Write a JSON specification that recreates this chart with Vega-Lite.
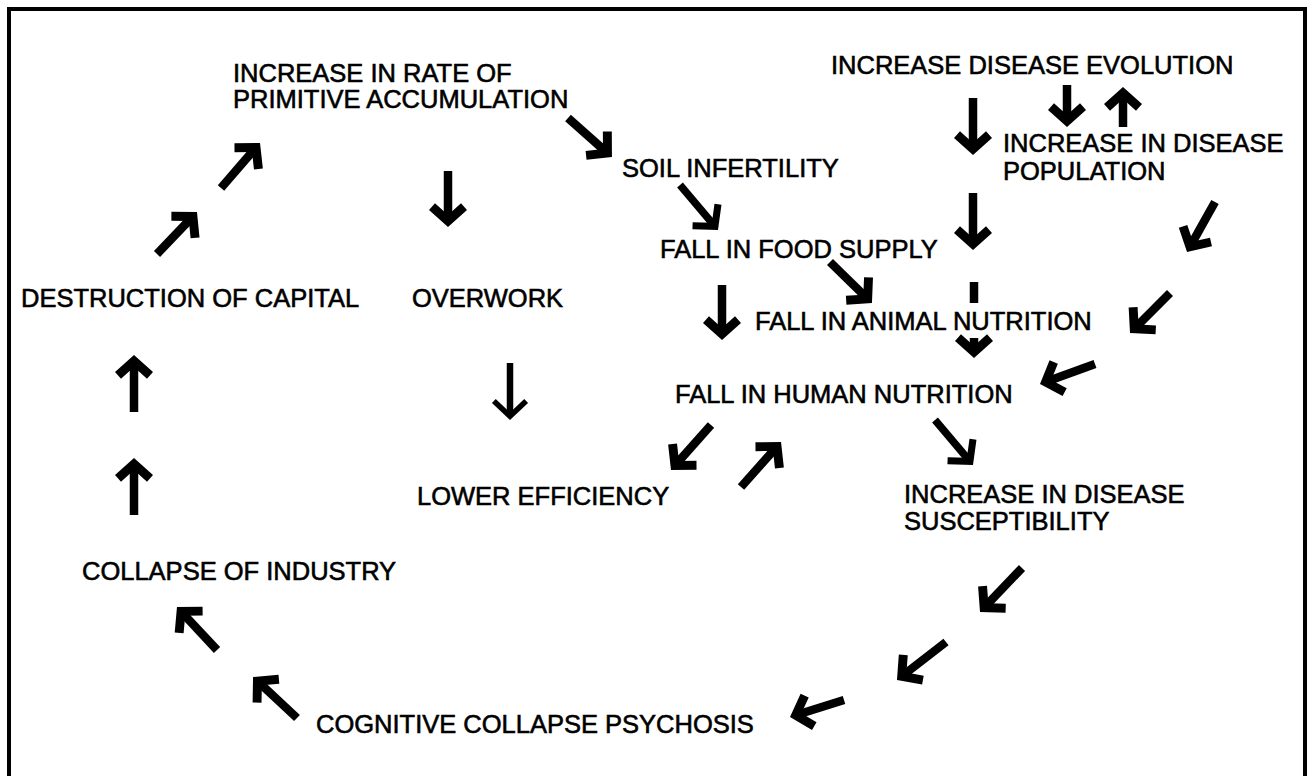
{
  "$schema": "https://vega.github.io/schema/vega-lite/v6.json",
  "width": 1313,
  "height": 776,
  "padding": 0,
  "autosize": {"type": "none"},
  "background": "white",
  "config": {"view": {"stroke": null}},
  "datasets": {
    "frame": [{"x": 9, "y": 9, "x2": 1305, "y2": 800}],
    "texts": [
      {"label": "INCREASE IN RATE OF", "x": 233, "y": 82},
      {"label": "PRIMITIVE ACCUMULATION", "x": 233, "y": 108},
      {"label": "INCREASE DISEASE EVOLUTION", "x": 831, "y": 74},
      {"label": "INCREASE IN DISEASE", "x": 1003, "y": 152},
      {"label": "POPULATION", "x": 1003, "y": 180},
      {"label": "SOIL INFERTILITY", "x": 622, "y": 177},
      {"label": "FALL IN FOOD SUPPLY", "x": 660, "y": 258},
      {"label": "DESTRUCTION OF CAPITAL", "x": 21, "y": 307},
      {"label": "OVERWORK", "x": 412, "y": 307},
      {"label": "FALL IN ANIMAL NUTRITION", "x": 755, "y": 330},
      {"label": "FALL IN HUMAN NUTRITION", "x": 675, "y": 403},
      {"label": "LOWER EFFICIENCY", "x": 417, "y": 505},
      {"label": "INCREASE IN DISEASE", "x": 904, "y": 503},
      {"label": "SUSCEPTIBILITY", "x": 904, "y": 530},
      {"label": "COLLAPSE OF INDUSTRY", "x": 82, "y": 580},
      {"label": "COGNITIVE COLLAPSE PSYCHOSIS", "x": 316, "y": 733}
    ],
    "arrows": [
      {"id": "A1", "x": 157, "y": 254, "hx": 192.6, "hy": 216.8, "angle": 42.3, "weight": "heavy"},
      {"id": "A2", "x": 221, "y": 188, "hx": 255.7, "hy": 147.9, "angle": 41.6, "weight": "heavy"},
      {"id": "A3", "x": 448, "y": 171, "hx": 448, "hy": 220.5, "angle": 180, "weight": "heavy"},
      {"id": "A4", "x": 568, "y": 118, "hx": 607.1, "hy": 152.7, "angle": 131.6, "weight": "heavy"},
      {"id": "A5", "x": 680, "y": 185, "hx": 713.8, "hy": 225, "angle": 139.8, "weight": "medium"},
      {"id": "A6", "x": 973, "y": 98, "hx": 973, "hy": 148.5, "angle": 180, "weight": "heavy"},
      {"id": "A7", "x": 1067, "y": 85, "hx": 1067, "hy": 120.5, "angle": 180, "weight": "heavy"},
      {"id": "A8", "x": 1123, "y": 127, "hx": 1123, "hy": 93.5, "angle": 0, "weight": "heavy"},
      {"id": "A9", "x": 973, "y": 193, "hx": 973, "hy": 243.5, "angle": 180, "weight": "heavy"},
      {"id": "A10", "x": 1215, "y": 202, "hx": 1190.2, "hy": 246.3, "angle": 209.3, "weight": "heavy"},
      {"id": "A11", "x": 830, "y": 262, "hx": 867.3, "hy": 298.5, "angle": 134.3, "weight": "heavy"},
      {"id": "A12", "x": 722, "y": 285, "hx": 722, "hy": 333.5, "angle": 180, "weight": "heavy"},
      {"id": "A13", "x": 974, "y": 338, "hx": 974, "hy": 351.5, "angle": 180, "weight": "heavy"},
      {"id": "A14", "x": 1170, "y": 293, "hx": 1134.6, "hy": 328.4, "angle": 225, "weight": "heavy"},
      {"id": "A15", "x": 1095, "y": 364, "hx": 1046.1, "hy": 381.8, "angle": 250, "weight": "heavy"},
      {"id": "A16", "x": 510, "y": 363, "hx": 510, "hy": 413.5, "angle": 180, "weight": "light"},
      {"id": "A17", "x": 711, "y": 425, "hx": 675.3, "hy": 465.1, "angle": 221.6, "weight": "heavy"},
      {"id": "A18", "x": 741, "y": 487, "hx": 776.7, "hy": 446.9, "angle": 41.6, "weight": "heavy"},
      {"id": "A19", "x": 935, "y": 420, "hx": 968.8, "hy": 460, "angle": 139.8, "weight": "medium"},
      {"id": "A20", "x": 134, "y": 412, "hx": 134, "hy": 361.5, "angle": 0, "weight": "heavy"},
      {"id": "A21", "x": 134, "y": 515, "hx": 134, "hy": 464.5, "angle": 0, "weight": "heavy"},
      {"id": "A22", "x": 1022, "y": 568, "hx": 984.5, "hy": 607.3, "angle": 223.7, "weight": "heavy"},
      {"id": "A23", "x": 946, "y": 642, "hx": 902.1, "hy": 676, "angle": 232.2, "weight": "heavy"},
      {"id": "A24", "x": 844, "y": 700, "hx": 796.2, "hy": 715, "angle": 252.5, "weight": "heavy"},
      {"id": "A25", "x": 217, "y": 650, "hx": 181.4, "hy": 611.8, "angle": 317.1, "weight": "heavy"},
      {"id": "A26", "x": 297, "y": 718, "hx": 257.8, "hy": 681.4, "angle": 313, "weight": "heavy"}
    ],
    "bars": [
      {"id": "A13bar", "x": 974, "y": 282, "x2": 974, "y2": 303, "weight": "heavy"}
    ]
  },
  "layer": [
    {
      "data": {"name": "frame"},
      "mark": {"type": "rect", "fillOpacity": 0, "stroke": "black", "strokeWidth": 4},
      "encoding": {
        "x": {"field": "x", "type": "quantitative", "scale": {"domain": [0, 1313], "nice": false, "zero": false}, "axis": null},
        "x2": {"field": "x2"},
        "y": {"field": "y", "type": "quantitative", "scale": {"domain": [0, 776], "nice": false, "zero": false, "reverse": true}, "axis": null},
        "y2": {"field": "y2"}
      }
    },
    {
      "data": {"name": "arrows"},
      "mark": {"type": "rule", "color": "black", "strokeCap": "butt"},
      "encoding": {
        "x": {"field": "x", "type": "quantitative", "axis": null},
        "y": {"field": "y", "type": "quantitative", "axis": null},
        "x2": {"field": "hx"},
        "y2": {"field": "hy"},
        "strokeWidth": {"field": "weight", "type": "nominal", "scale": {"domain": ["heavy", "medium", "light"], "range": [8.5, 6.5, 5]}, "legend": null}
      }
    },
    {
      "data": {"name": "bars"},
      "mark": {"type": "rule", "color": "black", "strokeCap": "butt"},
      "encoding": {
        "x": {"field": "x", "type": "quantitative", "axis": null},
        "y": {"field": "y", "type": "quantitative", "axis": null},
        "x2": {"field": "x2"},
        "y2": {"field": "y2"},
        "strokeWidth": {"field": "weight", "type": "nominal", "scale": {"domain": ["heavy", "medium", "light"], "range": [8.5, 6.5, 5]}, "legend": null}
      }
    },
    {
      "data": {"name": "arrows"},
      "mark": {"type": "point", "filled": true, "opacity": 1, "color": "black", "strokeWidth": 0, "size": 1444},
      "encoding": {
        "x": {"field": "hx", "type": "quantitative", "axis": null},
        "y": {"field": "hy", "type": "quantitative", "axis": null},
        "angle": {"field": "angle", "type": "quantitative", "scale": null},
        "shape": {"field": "weight", "type": "nominal", "scale": {"domain": ["heavy", "medium", "light"], "range": ["M0,-0.342L1,0.558L0.685,0.907L0,0.291L-0.685,0.907L-1,0.558Z", "M0,-0.342L1,0.558L0.752,0.833L0,0.156L-0.752,0.833L-1,0.558Z", "M0,-0.342L0.95,0.558L0.75,0.768L0,0.058L-0.75,0.768L-0.95,0.558Z"]}, "legend": null}
      }
    },
    {
      "data": {"name": "texts"},
      "mark": {"type": "text", "align": "left", "baseline": "alphabetic", "font": "Liberation Sans", "fontSize": 25.5, "color": "black", "stroke": "black", "strokeWidth": 0.6},
      "encoding": {
        "x": {"field": "x", "type": "quantitative", "axis": null},
        "y": {"field": "y", "type": "quantitative", "axis": null},
        "text": {"field": "label", "type": "nominal"}
      }
    }
  ]
}
